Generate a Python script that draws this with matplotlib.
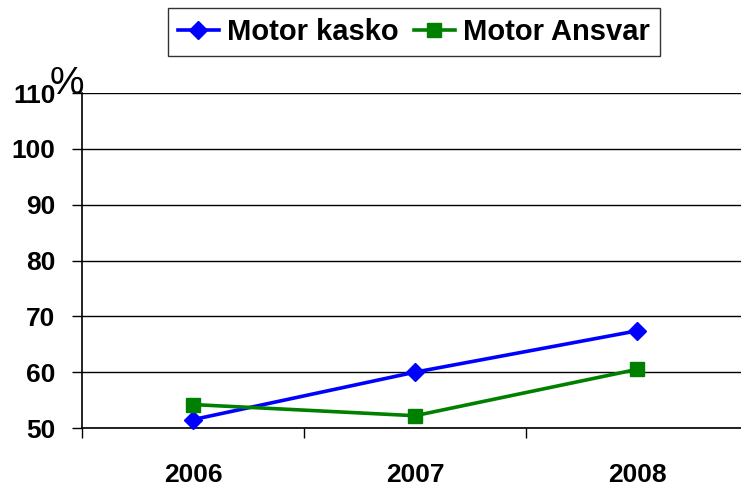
import matplotlib

matplotlib.use("Agg")

import matplotlib.pyplot as plt
from matplotlib.ticker import FixedLocator

years = ["2006", "2007", "2008"]
kasko = [51.5, 60.0, 67.4]
ansvar = [54.2, 52.2, 60.5]
y_ticks = [50, 60, 70, 80, 90, 100, 110]

plt.rcParams["font.family"] = ["Liberation Sans", "DejaVu Sans"]

fig = plt.figure(figsize=(7.41, 4.88), dpi=100)
ax = fig.add_axes([82 / 741, 1 - 428 / 488, 666 / 741, 335 / 488])

x = list(range(len(years)))
ax.plot(x, kasko, color="#0000FF", lw=2.6, marker="D", ms=9,
        label="Motor kasko", clip_on=False, zorder=3)
ax.plot(x, ansvar, color="#008000", lw=2.6, marker="s", ms=10,
        label="Motor Ansvar", clip_on=False, zorder=3)

ax.set_xlim(-0.5, 2.5)
ax.set_ylim(50, 110)
ax.set_yticks(y_ticks)
ax.set_xticks(x)
ax.set_xticklabels(years)
ax.xaxis.set_minor_locator(FixedLocator([-0.5, 0.5, 1.5, 2.5]))

for s in ("top", "right"):
    ax.spines[s].set_visible(False)
ax.spines["left"].set_linewidth(1.2)
ax.spines["bottom"].set_linewidth(1.2)
ax.yaxis.grid(True, color="black", lw=1.0)
ax.set_axisbelow(True)

ax.tick_params(axis="y", length=7, width=1, pad=12, labelsize=19)
ax.tick_params(axis="x", which="major", length=0, pad=25, labelsize=19)
ax.tick_params(axis="x", which="minor", length=7, width=1)
for lbl in ax.get_xticklabels() + ax.get_yticklabels():
    lbl.set_fontweight("bold")

fig.text(50 / 741, 1 - 94 / 488, "%", fontsize=28, va="baseline", ha="left")

leg = fig.legend(loc="upper center", bbox_to_anchor=(414 / 741, 1 - 8 / 488),
                 ncol=2, fancybox=False, framealpha=1, edgecolor="#333333",
                 prop={"weight": "bold", "size": 21}, handlelength=1.4,
                 handletextpad=0.3, columnspacing=0.5, borderpad=0.35,
                 borderaxespad=0)
leg.get_frame().set_linewidth(1.0)

fig.savefig("out.png", dpi=100)
